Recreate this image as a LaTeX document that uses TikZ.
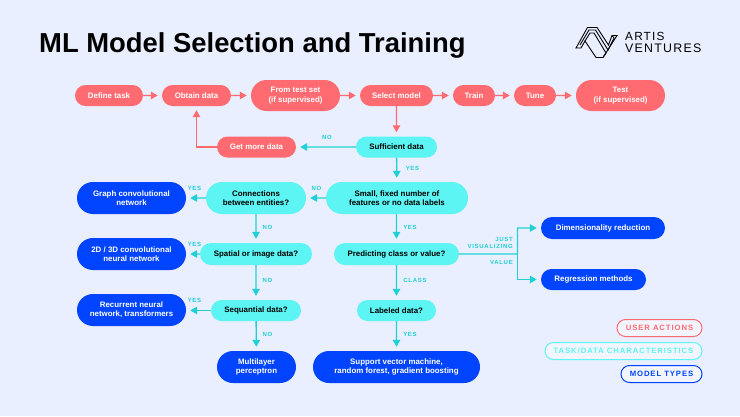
\documentclass[tikz,border=0pt]{standalone}
\usepackage{fontspec}
\setmainfont{Liberation Sans}
\newfontfamily\spacedfont[LetterSpace=12]{Liberation Sans}
\newfontfamily\logofont[LetterSpace=10]{Liberation Sans}
\usepackage{tikz}
\usetikzlibrary{shapes}
\usetikzlibrary{arrows.meta}
\definecolor{page_bg}{HTML}{E9EFFE}
\definecolor{user_red}{HTML}{FF6B70}
\definecolor{task_cyan}{HTML}{5CF5F3}
\definecolor{line_cyan}{HTML}{1FD1D6}
\definecolor{model_blue}{HTML}{0044FF}
\tikzset{
  flownode/.style = {rounded rectangle, align=center, inner sep=0pt,
    font=\fontsize{7.9}{9.4}\selectfont\bfseries},
  user_node/.style = {flownode, fill=user_red, text=white},% actions de l'utilisateur
  task_node/.style = {flownode, fill=task_cyan, text=black},% caracteristiques
  model_node/.style = {flownode, fill=model_blue, text=white},% types de modeles
  key_node/.style = {rounded rectangle, fill=white!40!page_bg, line width=1pt, inner sep=0pt,
    minimum height=17pt, font=\fontsize{7.7}{9}\spacedfont\bfseries},
  red_line/.style = {user_red, line width=1.3pt, -{Triangle[length=7pt,width=7.5pt]}, shorten >=4pt},
  cyan_line/.style = {line_cyan, line width=1.3pt, -{Triangle[length=7pt,width=7.5pt]}, shorten >=4pt},
  edge_label/.style = {line_cyan, align=right, inner sep=0pt,
    font=\fontsize{6}{6.6}\spacedfont\bfseries}
}
\begin{document}
\begin{tikzpicture}[x=1pt, y=-1pt]
    \fill [page_bg, use as bounding box] (0,0) rectangle (740,416);
    \node [anchor=west, inner sep=0pt, font=\fontsize{27.4}{32}\selectfont\bfseries] (title) at (39,45) {ML Model Selection and Training};
    % logo
    \begin{scope}[black, line width=0.9pt, line join=miter]
      \draw (576,48) -- (587.5,27.5) -- (597,27.5) -- (608.5,45) -- (612,35.5) -- (617,35.5) -- (603,57.5) -- (596,57.5) -- (585,41) -- (581,48) -- cycle;
      \draw (580,45) -- (589,30) -- (595.5,30) -- (608,50) -- (614,38) -- (612,35.5);
      \draw (585,41) -- (590,33) -- (594,33) -- (606,53) -- (603,57.5);
    \end{scope}
    \node [anchor=west, inner sep=0pt, font=\fontsize{11.8}{13}\logofont] (logo_top) at (625,36.5) {ARTIS};
    \node [anchor=west, inner sep=0pt, font=\fontsize{12.4}{13}\logofont] (logo_bottom) at (625,48.5) {VENTURES};
    % ligne du haut
    \node [user_node, minimum width=68pt, minimum height=21pt] (define_task) at (109,95.5) {Define task};
    \node [user_node, minimum width=69pt, minimum height=21pt] (obtain_data) at (196.5,95.5) {Obtain data};
    \node [user_node, minimum width=89pt, minimum height=31pt] (test_set) at (295.5,95.5) {From test set\\(if supervised)};
    \node [user_node, minimum width=73pt, minimum height=21pt] (select_model) at (396.5,95.5) {Select model};
    \node [user_node, minimum width=42pt, minimum height=21pt] (train) at (474,95.5) {Train};
    \node [user_node, minimum width=42pt, minimum height=21pt] (tune) at (535,95.5) {Tune};
    \node [user_node, minimum width=89pt, minimum height=31pt] (test) at (620.5,95.5) {Test\\(if supervised)};
    \node [user_node, minimum width=79pt, minimum height=21pt] (more_data) at (256.5,147) {Get more data};
    % questions
    \node [task_node, minimum width=81pt, minimum height=21pt] (sufficient) at (396.5,147) {Sufficient data};
    \node [task_node, minimum width=142pt, minimum height=32pt] (small_fixed) at (397,198) {Small, fixed number of\\features or no data labels};
    \node [task_node, minimum width=100pt, minimum height=32pt] (connections) at (256,198) {Connections\\between entities?};
    \node [task_node, minimum width=112pt, minimum height=22pt] (spatial) at (256,254) {Spatial or image data?};
    \node [task_node, minimum width=125pt, minimum height=22pt] (predicting) at (396.5,254) {Predicting class or value?};
    \node [task_node, minimum width=90pt, minimum height=21pt] (sequential) at (256,310.5) {Sequantial data?};
    \node [task_node, minimum width=79pt, minimum height=21pt] (labeled) at (396.5,310.5) {Labeled data?};
    % modeles
    \node [model_node, minimum width=109pt, minimum height=32pt] (graph_net) at (131.5,198) {Graph convolutional\\network};
    \node [model_node, minimum width=109pt, minimum height=32pt] (conv_net) at (131.5,254) {2D / 3D convolutional\\neural network};
    \node [model_node, minimum width=109pt, minimum height=32pt] (recurrent_net) at (131.5,310) {Recurrent neural\\network, transformers};
    \node [model_node, minimum width=79pt, minimum height=32pt] (perceptron) at (256.5,367) {Multilayer\\perceptron};
    \node [model_node, minimum width=167pt, minimum height=32pt] (svm) at (396.5,367) {Support vector machine,\\random forest, gradient boosting};
    \node [model_node, minimum width=124pt, minimum height=22pt] (dim_reduction) at (603,228) {Dimensionality reduction};
    \node [model_node, minimum width=105pt, minimum height=21pt] (regression) at (593.5,279.5) {Regression methods};
    \coordinate (branch) at (517.5,254);
    % fleches
    \draw [red_line] (define_task) -- (obtain_data);
    \draw [red_line] (obtain_data) -- (test_set);
    \draw [red_line] (test_set) -- (select_model);
    \draw [red_line] (select_model) -- (train);
    \draw [red_line] (train) -- (tune);
    \draw [red_line] (tune) -- (test);
    \draw [red_line] (select_model) -- (sufficient);
    \draw [red_line] (more_data) -| (obtain_data);
    \draw [cyan_line] (sufficient) -- (more_data);
    \draw [cyan_line] (sufficient) -- (small_fixed);
    \draw [cyan_line] (small_fixed) -- (connections);
    \draw [cyan_line] (small_fixed.south -| predicting) -- (predicting);
    \draw [cyan_line] (connections) -- (graph_net);
    \draw [cyan_line] (connections) -- (spatial);
    \draw [cyan_line] (spatial) -- (conv_net);
    \draw [cyan_line] (spatial) -- (sequential);
    \draw [cyan_line] (sequential.west) -- (recurrent_net.east |- sequential);
    \draw [cyan_line] (sequential) -- (perceptron);
    \draw [cyan_line] (predicting) -- (labeled);
    \draw [cyan_line] (labeled) -- (svm);
    \draw [cyan_line] (predicting) -- (branch) |- (dim_reduction);
    \draw [cyan_line] (branch) |- (regression);
    % etiquettes
    \node [edge_label] (label_a) at (327,137) {NO};
    \node [edge_label] (label_b) at (412.5,168.5) {YES};
    \node [edge_label] (label_c) at (316.5,188) {NO};
    \node [edge_label] (label_d) at (194.5,188) {YES};
    \node [edge_label] (label_e) at (267.5,227) {NO};
    \node [edge_label] (label_f) at (410,227) {YES};
    \node [edge_label] (label_g) at (194.5,244) {YES};
    \node [edge_label] (label_h) at (267.5,280.5) {NO};
    \node [edge_label] (label_i) at (415,280.5) {CLASS};
    \node [edge_label] (label_j) at (194.5,300.5) {YES};
    \node [edge_label] (label_k) at (267.5,334.5) {NO};
    \node [edge_label] (label_l) at (410,334.5) {YES};
    \node [edge_label, anchor=east] (label_m) at (513,243) {JUST\\VISUALIZING};
    \node [edge_label, anchor=east] (label_n) at (513,262) {VALUE};
    % legende
    \node [key_node, draw=user_red, text=user_red, minimum width=85pt] (key_user) at (659.5,328) {USER ACTIONS};
    \node [key_node, draw=task_cyan, text=task_cyan, minimum width=157pt] (key_task) at (623.5,351) {TASK/DATA CHARACTERISTICS};
    \node [key_node, draw=model_blue, text=model_blue, minimum width=81pt] (key_model) at (661.5,374) {MODEL TYPES};
\end{tikzpicture}
\end{document}
